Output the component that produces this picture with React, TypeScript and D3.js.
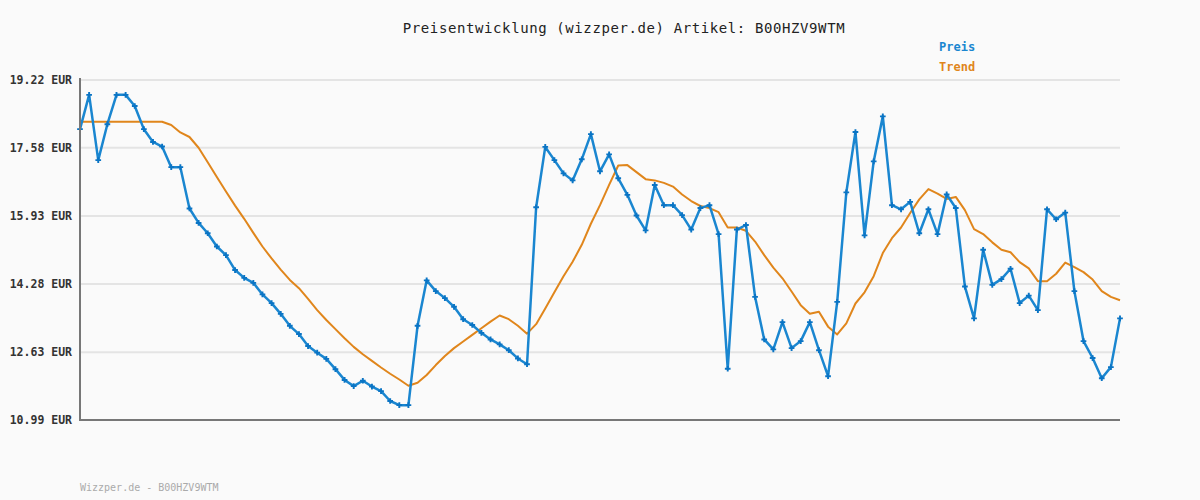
import React, { useEffect, useRef } from "react";
import * as d3 from "d3";

const priceValues: number[] = [
  18.03, 18.86, 17.28, 18.15, 18.86, 18.86, 18.59, 18.03, 17.72, 17.61,
  17.11, 17.11, 16.11, 15.76, 15.51, 15.19, 14.98, 14.62, 14.43, 14.31,
  14.03, 13.82, 13.56, 13.27, 13.07, 12.78, 12.62, 12.47, 12.22, 11.96,
  11.81, 11.94, 11.80, 11.69, 11.45, 11.35, 11.35, 13.27, 14.37, 14.11,
  13.94, 13.73, 13.43, 13.29, 13.10, 12.94, 12.82, 12.68, 12.48, 12.34,
  16.14, 17.60, 17.28, 16.96, 16.79, 17.30, 17.91, 17.01, 17.42, 16.84,
  16.44, 15.94, 15.58, 16.68, 16.19, 16.19, 15.95, 15.60, 16.12, 16.19,
  15.49, 12.23, 15.60, 15.71, 13.97, 12.94, 12.70, 13.36, 12.73, 12.90,
  13.36, 12.68, 12.05, 13.85, 16.50, 17.96, 15.46, 17.25, 18.34, 16.19,
  16.09, 16.27, 15.51, 16.09, 15.49, 16.45, 16.12, 14.22, 13.45, 15.11,
  14.26, 14.40, 14.65, 13.82, 14.00, 13.65, 16.09, 15.85, 16.01, 14.11,
  12.90, 12.49, 12.00, 12.27, 13.45,
];

const trendValues: number[] = [
  18.21, 18.21, 18.21, 18.21, 18.21, 18.21, 18.21, 18.21, 18.21, 18.21,
  18.13, 17.95, 17.84, 17.58, 17.23, 16.87, 16.52, 16.18, 15.86, 15.52,
  15.19, 14.90, 14.63, 14.38, 14.18, 13.92, 13.65, 13.41, 13.19, 12.97,
  12.76, 12.58, 12.42, 12.26, 12.11, 11.97, 11.82, 11.89, 12.08, 12.32,
  12.54, 12.73, 12.89, 13.05, 13.21, 13.37, 13.52, 13.43, 13.27, 13.08,
  13.31, 13.69, 14.08, 14.47, 14.82, 15.23, 15.74, 16.19, 16.68, 17.15,
  17.16, 16.99, 16.82, 16.79, 16.73, 16.64, 16.45, 16.29, 16.17, 16.12,
  16.02, 15.65, 15.65, 15.57, 15.31, 14.98, 14.68, 14.42, 14.10, 13.77,
  13.56, 13.61, 13.25, 13.06, 13.33, 13.81, 14.08, 14.47, 15.03, 15.39,
  15.65, 16.00, 16.33, 16.58, 16.47, 16.34, 16.39, 16.07, 15.61, 15.49,
  15.29, 15.11, 15.05, 14.81, 14.66, 14.35, 14.35, 14.53, 14.80, 14.69,
  14.57, 14.39, 14.11, 13.97, 13.89,
];

const yTickValues: number[] = [10.99, 12.63, 14.28, 15.93, 17.58, 19.22];
const yTickLabels: string[] = ["10.99 EUR", "12.63 EUR", "14.28 EUR", "15.93 EUR", "17.58 EUR", "19.22 EUR"];
const seriesNames: string[] = ["Preis", "Trend"];
const titleText = "Preisentwicklung (wizzper.de) Artikel: B00HZV9WTM";
const footerText = "Wizzper.de - B00HZV9WTM";

const W = 1200;
const H = 500;
const M = { left: 80, right: 1120, top: 80, bottom: 420 };
const BLUE = "#1a86d0";
const ORANGE = "#e0861c";
const MONO = "'DejaVu Sans Mono', 'Liberation Mono', monospace";

export default function App() {
  const ref = useRef<SVGSVGElement | null>(null);

  useEffect(() => {
    const svg = d3.select(ref.current);
    svg.selectAll("*").remove();

    const x = d3.scaleLinear().domain([0, priceValues.length - 1]).range([M.left, M.right]);
    const y = d3.scaleLinear().domain([10.99, 19.22]).range([M.bottom, M.top]);

    svg.append("rect").attr("width", W).attr("height", H).attr("fill", "#fafafa");

    // grid
    svg.append("g")
      .selectAll("line")
      .data(yTickValues.slice(1))
      .join("line")
      .attr("x1", M.left)
      .attr("x2", M.right)
      .attr("y1", (d) => y(d))
      .attr("y2", (d) => y(d))
      .attr("stroke", "#e4e4e4")
      .attr("stroke-width", 2);

    // y labels
    svg.append("g")
      .selectAll("text")
      .data(yTickValues)
      .join("text")
      .attr("x", 72)
      .attr("y", (d) => y(d) + 4)
      .attr("text-anchor", "end")
      .attr("font-family", MONO)
      .attr("font-size", 11.5)
      .attr("font-weight", "bold")
      .attr("fill", "#333")
      .text((_d, i) => yTickLabels[i]);

    // trend line
    const line = d3.line<number>().x((_d, i) => x(i)).y((d) => y(d));
    svg.append("path")
      .attr("d", line(trendValues) || "")
      .attr("fill", "none")
      .attr("stroke", ORANGE)
      .attr("stroke-width", 2)
      .attr("stroke-linejoin", "round");

    // price line
    svg.append("path")
      .attr("d", line(priceValues) || "")
      .attr("fill", "none")
      .attr("stroke", BLUE)
      .attr("stroke-width", 2.5)
      .attr("stroke-linejoin", "round");

    // markers
    const cross = d3.symbol().type(d3.symbolCross).size(18);
    svg.append("g")
      .selectAll("path")
      .data(priceValues)
      .join("path")
      .attr("transform", (d, i) => `translate(${x(i)},${y(d)})`)
      .attr("d", cross() || "")
      .attr("fill", "#0a74c4");

    // axes
    svg.append("line")
      .attr("x1", M.left).attr("x2", M.left)
      .attr("y1", M.top - 2).attr("y2", M.bottom + 1)
      .attr("stroke", "#777").attr("stroke-width", 2);
    svg.append("line")
      .attr("x1", M.left - 1).attr("x2", M.right)
      .attr("y1", M.bottom).attr("y2", M.bottom)
      .attr("stroke", "#777").attr("stroke-width", 2);

    // title
    svg.append("text")
      .attr("x", 624)
      .attr("y", 33)
      .attr("text-anchor", "middle")
      .attr("font-family", MONO)
      .attr("font-size", 14)
      .attr("letter-spacing", 0.6)
      .attr("fill", "#222")
      .text(titleText);

    // legend
    const legendColors = [BLUE, ORANGE];
    svg.append("g")
      .selectAll("text")
      .data(seriesNames)
      .join("text")
      .attr("x", 939)
      .attr("y", (_d, i) => 51 + i * 20)
      .attr("font-family", MONO)
      .attr("font-size", 12)
      .attr("font-weight", "bold")
      .attr("fill", (_d, i) => legendColors[i])
      .text((d) => d);

    // footer
    svg.append("text")
      .attr("x", 80)
      .attr("y", 491)
      .attr("font-family", MONO)
      .attr("font-size", 10)
      .attr("fill", "#aaa")
      .text(footerText);
  }, []);

  return (
    <svg
      ref={ref}
      width={W}
      height={H}
      style={{ position: "absolute", left: 0, top: 0, display: "block" }}
    />
  );
}
